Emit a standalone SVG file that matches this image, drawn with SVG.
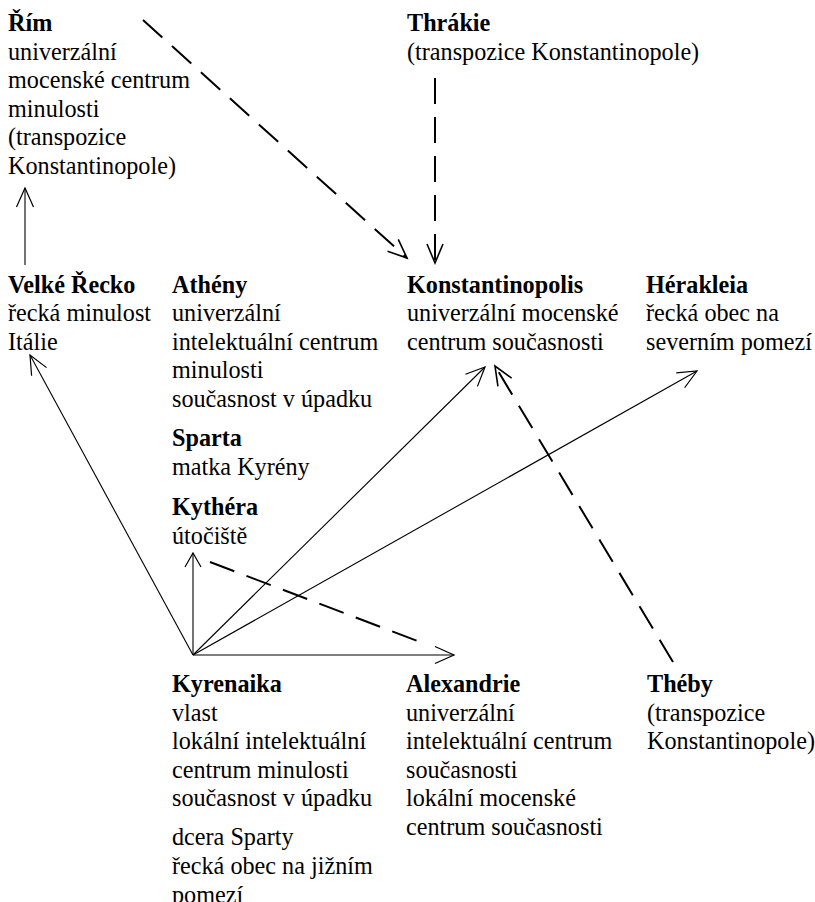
<svg xmlns="http://www.w3.org/2000/svg" width="815" height="902" viewBox="0 0 815 902">
<style>
text{font-family:"Liberation Serif","Times New Roman",serif;font-size:24.2px;fill:#000}
.t{font-weight:bold}
.s{fill:none;stroke:#000;stroke-width:1.1}
.d{fill:none;stroke:#000;stroke-width:2;stroke-dasharray:26 13}
</style>
<defs>
<marker id="ah" markerUnits="userSpaceOnUse" orient="auto" overflow="visible" markerWidth="1" markerHeight="1" refX="0" refY="0">
<path d="M-19,-8.5 L0,0 L-19,8.5" fill="none" stroke="#000" stroke-width="1.2"/>
</marker>
<marker id="ahs" markerUnits="userSpaceOnUse" orient="auto" overflow="visible" markerWidth="1" markerHeight="1" refX="0" refY="0">
<path d="M-14,-8 L0,0 L-14,8" fill="none" stroke="#000" stroke-width="1.2"/>
</marker>
<marker id="ahd" markerUnits="userSpaceOnUse" orient="auto" overflow="visible" markerWidth="1" markerHeight="1" refX="0" refY="0">
<path d="M-19,-8 L0,0 L-19,8" fill="none" stroke="#000" stroke-width="1.6"/>
</marker>
</defs>
<g id="connectors">
<line class="s" x1="25" y1="265" x2="25" y2="188" marker-end="url(#ah)"/>
<line class="d" x1="143" y1="20" x2="407" y2="258" marker-end="url(#ahd)"/>
<line class="d" x1="435" y1="78" x2="435" y2="263" marker-end="url(#ahd)"/>
<line class="s" x1="193" y1="655" x2="30" y2="355" marker-end="url(#ah)"/>
<line class="s" x1="193" y1="655" x2="193" y2="553" marker-end="url(#ahs)"/>
<line class="s" x1="193" y1="655" x2="485" y2="367" marker-end="url(#ah)"/>
<line class="s" x1="193" y1="655" x2="697" y2="371" marker-end="url(#ah)"/>
<line class="s" x1="193" y1="655" x2="454" y2="655" marker-end="url(#ah)"/>
<line class="d" x1="210" y1="562" x2="420" y2="642"/>
<line class="d" x1="673" y1="662" x2="495" y2="366" marker-end="url(#ahd)"/>
</g>
<g id="rim">
<text x="8" y="31"><tspan class="t">Řím</tspan><tspan x="8" dy="28.6">univerzální</tspan><tspan x="8" dy="28.6">mocenské centrum</tspan><tspan x="8" dy="28.6">minulosti</tspan><tspan x="8" dy="28.6">(transpozice</tspan><tspan x="8" dy="28.6">Konstantinopole)</tspan></text>
</g>
<g id="thrakie">
<text x="407" y="31"><tspan class="t">Thrákie</tspan><tspan x="407" dy="28.6">(transpozice Konstantinopole)</tspan></text>
</g>
<g id="velke-recko">
<text x="8" y="292.5"><tspan class="t">Velké Řecko</tspan><tspan x="8" dy="28.6">řecká minulost</tspan><tspan x="8" dy="28.6">Itálie</tspan></text>
</g>
<g id="atheny">
<text x="172" y="292.5"><tspan class="t">Athény</tspan><tspan x="172" dy="28.6">univerzální</tspan><tspan x="172" dy="28.6">intelektuální centrum</tspan><tspan x="172" dy="28.6">minulosti</tspan><tspan x="172" dy="28.6">současnost v úpadku</tspan></text>
</g>
<g id="konstantinopolis">
<text x="407" y="292.5"><tspan class="t">Konstantinopolis</tspan><tspan x="407" dy="28.6">univerzální mocenské</tspan><tspan x="407" dy="28.6">centrum současnosti</tspan></text>
</g>
<g id="herakleia">
<text x="646" y="292.5"><tspan class="t">Hérakleia</tspan><tspan x="646" dy="28.6">řecká obec na</tspan><tspan x="646" dy="28.6">severním pomezí</tspan></text>
</g>
<g id="sparta">
<text x="172" y="446"><tspan class="t">Sparta</tspan><tspan x="172" dy="28.6">matka Kyrény</tspan></text>
</g>
<g id="kythera">
<text x="172" y="515"><tspan class="t">Kythéra</tspan><tspan x="172" dy="28.6">útočiště</tspan></text>
</g>
<g id="kyrenaika">
<text x="172" y="692"><tspan class="t">Kyrenaika</tspan><tspan x="172" dy="28.6">vlast</tspan><tspan x="172" dy="28.6">lokální intelektuální</tspan><tspan x="172" dy="28.6">centrum minulosti</tspan><tspan x="172" dy="28.6">současnost v úpadku</tspan><tspan x="172" dy="39">dcera Sparty</tspan><tspan x="172" dy="28.6">řecká obec na jižním</tspan><tspan x="172" dy="28.6">pomezí</tspan></text>
</g>
<g id="alexandrie">
<text x="406" y="692"><tspan class="t">Alexandrie</tspan><tspan x="406" dy="28.6">univerzální</tspan><tspan x="406" dy="28.6">intelektuální centrum</tspan><tspan x="406" dy="28.6">současnosti</tspan><tspan x="406" dy="28.6">lokální mocenské</tspan><tspan x="406" dy="28.6">centrum současnosti</tspan></text>
</g>
<g id="theby">
<text x="647" y="692"><tspan class="t">Théby</tspan><tspan x="647" dy="28.6">(transpozice</tspan><tspan x="647" dy="28.6">Konstantinopole)</tspan></text>
</g>
</svg>
